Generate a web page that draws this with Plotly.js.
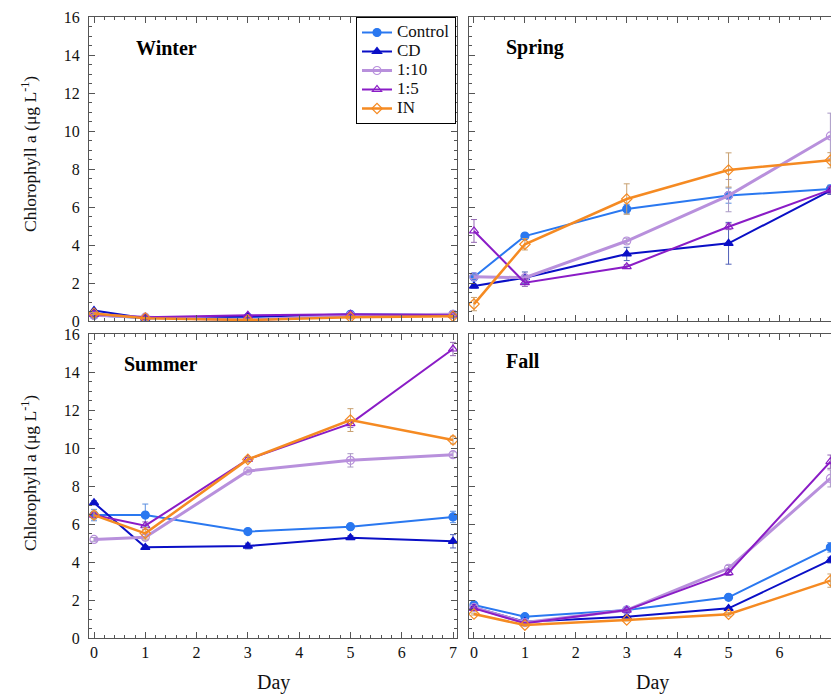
<!DOCTYPE html>
<html>
<head>
<meta charset="utf-8">
<script src="https://cdn.plot.ly/plotly-3.0.1.min.js"></script>
<style>html,body{margin:0;padding:0;background:#fff}#chart{width:831px;height:695px}</style>
</head>
<body>
<div id="chart"></div>
<script>
// ---------- data ----------
const days = [0, 1, 3, 5, 7];
const seriesNames = ['Control', 'CD', '1:10', '1:5', 'IN'];
const seasonNames = ['Winter', 'Spring', 'Summer', 'Fall'];
const yTickLabels = ['0', '2', '4', '6', '8', '10', '12', '14', '16'];
const xTickLabels = ['0', '1', '2', '3', '4', '5', '6', '7'];

// Winter
const winterControl = [0.30, 0.15, 0.20, 0.35, 0.35];
const winterCD      = [0.55, 0.15, 0.25, 0.30, 0.30];
const winter110     = [0.30, 0.20, 0.05, 0.30, 0.35];
const winter15      = [0.35, 0.20, 0.30, 0.35, 0.30];
const winterIN      = [0.40, 0.15, 0.05, 0.20, 0.25];
const winterControlErr = [0.05, 0.03, 0.03, 0.05, 0.05];
const winterCDErr      = [0.05, 0.03, 0.03, 0.05, 0.05];
const winter110Err     = [0.05, 0.03, 0.03, 0.05, 0.05];
const winter15Err      = [0.05, 0.03, 0.03, 0.05, 0.05];
const winterINErr      = [0.05, 0.03, 0.03, 0.05, 0.05];

// Spring
const springControl = [2.32, 4.47, 5.89, 6.60, 6.95];
const springCD      = [1.84, 2.28, 3.53, 4.09, 6.86];
const spring110     = [2.33, 2.28, 4.21, 6.60, 9.74];
const spring15      = [4.74, 2.02, 2.86, 4.96, 6.90];
const springIN      = [0.89, 4.04, 6.42, 7.95, 8.46];
const springControlErr = [0.20, 0.10, 0.25, 0.40, 0.20];
const springCDErr      = [0.10, 0.30, 0.35, 1.10, 0.20];
const spring110Err     = [0.10, 0.10, 0.15, 0.85, 1.20];
const spring15Err      = [0.60, 0.20, 0.10, 0.15, 0.20];
const springINErr      = [0.35, 0.30, 0.80, 0.90, 0.40];

// Summer
const summerControl = [6.47, 6.47, 5.60, 5.86, 6.37];
const summerCD      = [7.12, 4.77, 4.84, 5.28, 5.09];
const summer110     = [5.19, 5.30, 8.79, 9.35, 9.65];
const summer15      = [6.47, 5.91, 9.40, 11.28, 15.21];
const summerIN      = [6.47, 5.51, 9.40, 11.47, 10.42];
const summerControlErr = [0.30, 0.58, 0.10, 0.10, 0.30];
const summerCDErr      = [0.10, 0.10, 0.15, 0.10, 0.35];
const summer110Err     = [0.10, 0.15, 0.10, 0.35, 0.15];
const summer15Err      = [0.10, 0.20, 0.10, 0.20, 0.35];
const summerINErr      = [0.20, 0.30, 0.15, 0.60, 0.20];

// Fall
const fallControl = [1.74, 1.12, 1.47, 2.14, 4.77];
const fallCD      = [1.61, 0.86, 1.12, 1.56, 4.10];
const fall110     = [1.61, 0.81, 1.47, 3.67, 8.40];
const fall15      = [1.56, 0.78, 1.47, 3.44, 9.28];
const fallIN      = [1.26, 0.68, 0.95, 1.25, 3.02];
const fallControlErr = [0.10, 0.05, 0.05, 0.10, 0.25];
const fallCDErr      = [0.05, 0.05, 0.05, 0.05, 0.15];
const fall110Err     = [0.10, 0.05, 0.05, 0.15, 0.45];
const fall15Err      = [0.05, 0.05, 0.05, 0.15, 0.35];
const fallINErr      = [0.05, 0.05, 0.05, 0.10, 0.35];

// ---------- styles ----------
const lineColors  = ['#2a78f0', '#0a0fc6', '#b890dc', '#8a1cc6', '#f58a22'];
const errColors   = ['#5a8ee0', '#5060b8', '#a898c4', '#9468b4', '#c8a070'];
const lineWidths  = [2, 2, 3, 2, 2.5];
const symbols     = ['circle', 'triangle-up', 'circle-open', 'triangle-up-open', 'diamond-open'];
const FONT = 'Liberation Serif, Times New Roman, serif';

const seasonData = [
  [winterControl, winterCD, winter110, winter15, winterIN],
  [springControl, springCD, spring110, spring15, springIN],
  [summerControl, summerCD, summer110, summer15, summerIN],
  [fallControl, fallCD, fall110, fall15, fallIN]
];
const seasonErr = [
  [winterControlErr, winterCDErr, winter110Err, winter15Err, winterINErr],
  [springControlErr, springCDErr, spring110Err, spring15Err, springINErr],
  [summerControlErr, summerCDErr, summer110Err, summer15Err, summerINErr],
  [fallControlErr, fallCDErr, fall110Err, fall15Err, fallINErr]
];

const traces = [];
for (let p = 0; p < 4; p++) {
  const ax = p === 0 ? '' : String(p + 1);
  for (let s = 0; s < 5; s++) {
    traces.push({
      type: 'scatter', mode: 'lines+markers',
      x: days, y: seasonData[p][s],
      name: '<span style="font-size:17px">' + seriesNames[s] + '</span>',
      legendgroup: seriesNames[s], showlegend: p === 0,
      xaxis: 'x' + ax, yaxis: 'y' + ax,
      line: {color: lineColors[s], width: lineWidths[s]},
      marker: {symbol: symbols[s], size: 8, color: lineColors[s], line: {width: 1.2, color: lineColors[s]}},
      error_y: {type: 'data', array: seasonErr[p][s], visible: true, color: errColors[s], thickness: 1, width: 3}
    });
  }
}

const W = 831, H = 695;
const px = v => v / W, py = v => 1 - v / H;

const gray = '#555';
function xax(dom, range, labels) {
  return {
    domain: dom, range: range, tickmode: 'array', tickvals: [0,1,2,3,4,5,6,7], ticktext: xTickLabels,
    showticklabels: labels, ticks: 'inside', ticklen: 6, tickcolor: gray, tickwidth: 1,
    minor: {dtick: 0.2, tick0: 0, ticks: 'inside', ticklen: 3, tickcolor: gray, tickwidth: 1},
    showline: true, linecolor: gray, linewidth: 1, mirror: 'ticks',
    showgrid: false, zeroline: false, fixedrange: true,
    tickfont: {family: FONT, size: 16, color: '#111'}
  };
}
function yax(dom, labels, mirror) {
  return {
    domain: dom, range: [0, 16], tickmode: 'array', tickvals: [0,2,4,6,8,10,12,14,16], ticktext: yTickLabels,
    showticklabels: labels, ticks: 'inside', ticklen: 6, tickcolor: gray, tickwidth: 1,
    minor: {dtick: 0.5, tick0: 0, ticks: 'inside', ticklen: 3, tickcolor: gray, tickwidth: 1},
    showline: true, linecolor: gray, linewidth: 1, mirror: mirror,
    showgrid: false, zeroline: false, fixedrange: true, ticklabelstandoff: 5,
    tickfont: {family: FONT, size: 16, color: '#111'}
  };
}

const leftDom = [px(89), px(457)], rightDom = [px(469), 1];
const topDom = [py(321), py(17)], botDom = [py(638), py(334)];
const leftRange = [-0.0975, 7.078], rightRange = [-0.098, 7.012];

function ann(text, x, y, size, bold, angle) {
  return {text: text, x: px(x), y: py(y), xref: 'paper', yref: 'paper', xanchor: 'center', yanchor: 'middle',
          showarrow: false, textangle: angle || 0,
          font: {family: FONT, size: size, color: bold ? '#000' : '#111', weight: bold ? 'bold' : 'normal'}};
}

const layout = {
  width: W, height: H, margin: {l: 0, r: 0, t: 0, b: 0},
  paper_bgcolor: '#fff', plot_bgcolor: '#fff',
  font: {family: FONT, color: '#111'},
  xaxis:  Object.assign(xax(leftDom, leftRange, false), {anchor: 'y'}),
  yaxis:  Object.assign(yax(topDom, true, 'ticks'), {anchor: 'x'}),
  xaxis2: Object.assign(xax(rightDom, rightRange, false), {anchor: 'y2'}),
  yaxis2: Object.assign(yax(topDom, false, false), {anchor: 'x2'}),
  xaxis3: Object.assign(xax(leftDom, leftRange, true), {anchor: 'y3'}),
  yaxis3: Object.assign(yax(botDom, true, 'ticks'), {anchor: 'x3'}),
  xaxis4: Object.assign(xax(rightDom, rightRange, true), {anchor: 'y4'}),
  yaxis4: Object.assign(yax(botDom, false, false), {anchor: 'x4'}),
  showlegend: true,
  legend: {
    x: px(456), xanchor: 'right', y: py(17), yanchor: 'top',
    bgcolor: '#fff', bordercolor: '#000', borderwidth: 1,
    font: {family: FONT, size: 12, color: '#111'},
    tracegroupgap: 0, itemwidth: 30
  },
  annotations: [
    ann(seasonNames[0], 166, 48, 20, true),
    ann(seasonNames[1], 535, 48, 20, true),
    ann(seasonNames[2], 160, 364, 20, true),
    ann(seasonNames[3], 523, 361, 20, true),
    ann('Chlorophyll a (μg L<sup>-1</sup>)', 29, 154, 17.5, false, -90),
    ann('Chlorophyll a (μg L<sup>-1</sup>)', 29, 473, 17.5, false, -90),
    ann('Day', 273, 682, 20, false),
    ann('Day', 652, 682, 20, false)
  ]
};

Plotly.newPlot('chart', traces, layout, {displayModeBar: false, staticPlot: true});
</script>
</body>
</html>
